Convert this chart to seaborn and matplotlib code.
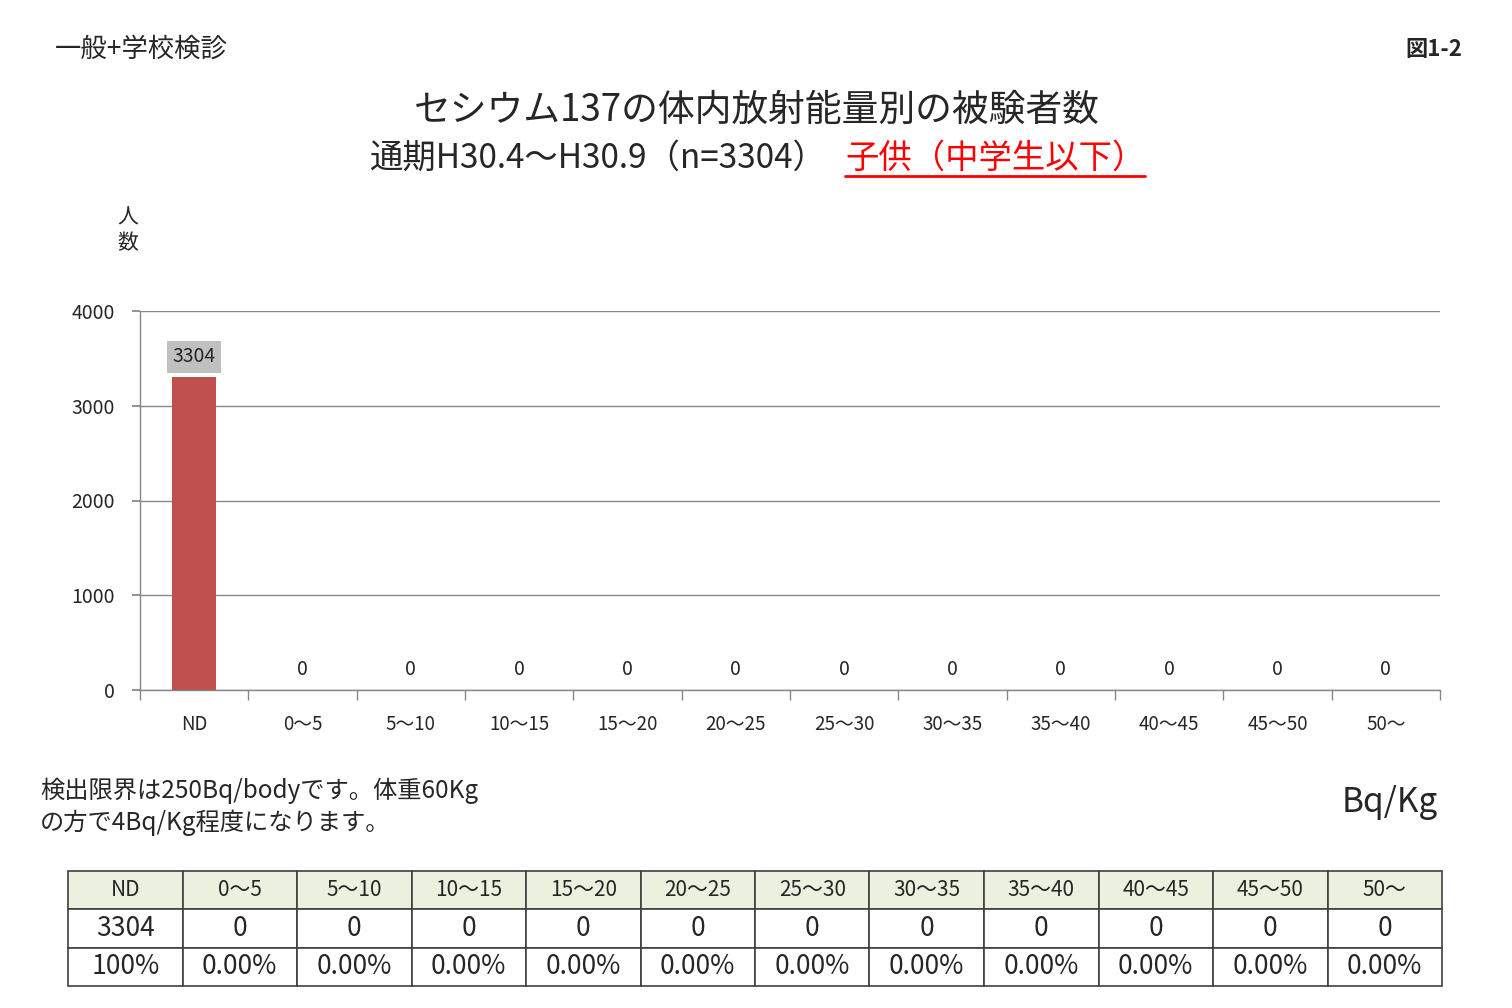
import matplotlib
matplotlib.use("Agg")
import matplotlib.pyplot as plt
import seaborn as sns
import pandas as pd
from matplotlib.lines import Line2D

categories = ["ND", "0～5", "5～10", "10～15", "15～20", "20～25", "25～30",
              "30～35", "35～40", "40～45", "45～50", "50～"]
counts = [3304, 0, 0, 0, 0, 0, 0, 0, 0, 0, 0, 0]
percents = ["100%"] + ["0.00%"] * 11
yticks = [0, 1000, 2000, 3000, 4000]

sns.set_theme(style="white")
plt.rcParams['font.family'] = ['Noto Sans CJK JP', 'DejaVu Sans']

fig = plt.figure(figsize=(15.12, 10.08), dpi=100)
ax = fig.add_axes([140/1512, 1-690/1008, 1300/1512, 379/1008])

df = pd.DataFrame({"cat": categories, "n": counts})
sns.barplot(data=df, x="cat", y="n", color="#C0504D", saturation=1, width=0.41,
            linewidth=0, ax=ax)

ax.set_ylim(0, 4000)
ax.set_xlim(-0.5, len(categories) - 0.5)
ax.set_yticks(yticks)
ax.set_yticklabels([str(v) for v in yticks], fontsize=14)
ax.yaxis.grid(True, color="#868686", linewidth=1)
ax.set_axisbelow(True)
ax.set_xlabel("")
ax.set_ylabel("")
for s in ["top", "right"]:
    ax.spines[s].set_visible(False)
for s in ["left", "bottom"]:
    ax.spines[s].set_color("#868686")
    ax.spines[s].set_linewidth(1)
ax.tick_params(axis="y", which="major", left=True, length=6, color="#868686", pad=12)
ax.tick_params(axis="x", which="major", length=0, labelsize=13.5, pad=17)
ax.set_xticks([i - 0.5 for i in range(len(categories) + 1)], minor=True)
ax.tick_params(axis="x", which="minor", bottom=True, length=7, color="#868686")

for cont in ax.containers:
    labels = ax.bar_label(cont, labels=[str(v) for v in counts], padding=7, fontsize=14)
    for t, v in zip(labels, counts):
        if v > 0:
            t.set_bbox(dict(facecolor="#C0C0C0", edgecolor="none", pad=4))

# Texts
fig.text(55/1512, 1-49/1008, "一般+学校検診", fontsize=19, ha="left", va="center")
fig.text(1462/1512, 1-49/1008, "図1-2", fontsize=16, ha="right", va="center", fontweight="bold")
fig.text(757/1512, 1-110/1008, "セシウム137の体内放射能量別の被験者数", fontsize=26.5, ha="center", va="center")
fig.text(826/1512, 1-158/1008, "通期H30.4～H30.9（n=3304）", fontsize=24, ha="right", va="center")
red = fig.text(845/1512, 1-158/1008, "子供（中学生以下）", fontsize=24, ha="left", va="center", color="#FF0000")
fig.text(128/1512, 1-218/1008, "人", fontsize=15, ha="center", va="center")
fig.text(128/1512, 1-243/1008, "数", fontsize=15, ha="center", va="center")
fig.text(40/1512, 1-791/1008, "検出限界は250Bq/bodyです。体重60Kg", fontsize=17.5, ha="left", va="center")
fig.text(40/1512, 1-823/1008, "の方で4Bq/Kg程度になります。", fontsize=17.5, ha="left", va="center")
fig.text(1438/1512, 1-802/1008, "Bq/Kg", fontsize=24, ha="right", va="center")

fig.canvas.draw()
bb = red.get_window_extent(fig.canvas.get_renderer())
uy = 1 - 176/1008
fig.add_artist(Line2D([bb.x0/1512, bb.x1/1512], [uy, uy], color="#FF0000", linewidth=2,
                      transform=fig.transFigure))

# Table
tax = fig.add_axes([68/1512, 1-986/1008, 1374/1512, 115/1008])
tax.axis("off")
cells = [categories, [str(v) for v in counts], percents]
colors = [["#EBF1DE"] * len(categories), ["white"] * len(categories), ["white"] * len(categories)]
tbl = tax.table(cellText=cells, cellColours=colors, cellLoc="center", loc="center", bbox=[0, 0, 1, 1])
tbl.auto_set_font_size(False)
for (r, c), cell in tbl.get_celld().items():
    cell.set_edgecolor("#404040")
    cell.set_linewidth(1.2)
    cell.get_text().set_fontsize(15 if r == 0 else 19)

fig.savefig("out.png", dpi=100)
